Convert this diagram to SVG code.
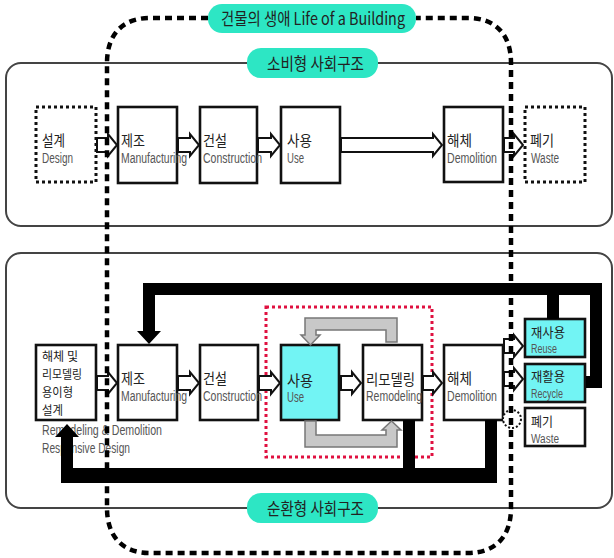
<svg xmlns="http://www.w3.org/2000/svg" width="614" height="558" viewBox="0 0 614 558">
<style>
.panel{fill:none;stroke:#444;stroke-width:2}
.box{fill:#fff;stroke:#111;stroke-width:2.6}
.cyan{fill:#72f4f4;stroke:#111;stroke-width:2.6}
.dot{fill:#fff;stroke:#111;stroke-width:3;stroke-dasharray:3 3}
.pill{fill:#2de6c4}
.ko{font-family:"Noto Sans CJK KR","Noto Sans",sans-serif;font-size:15px;fill:#222}
.ks{font-size:12.5px}
.kr{font-size:13px}
.en{font-family:"Liberation Sans Narrow","Liberation Sans",Arial,sans-serif;font-size:14px;fill:#555}
.sm{font-size:12px}
.pt{font-family:"Noto Sans CJK KR","Liberation Sans Narrow","Liberation Sans",sans-serif;font-size:17px;fill:#222}
.hollow{fill:#fff;stroke:#111;stroke-width:2}
.gray{fill:#c8c8c8;stroke:#777;stroke-width:1.5}
.black{fill:#000}
.life{fill:none;stroke:#000;stroke-width:4.5;stroke-dasharray:7 5}
.red{fill:none;stroke:#e01040;stroke-width:3;stroke-dasharray:3 3}
</style>

<g id="panels">
<rect class="panel" x="6" y="63" width="606" height="163" rx="15"/>
<rect class="panel" x="6" y="253" width="606" height="255" rx="15"/>
<rect class="red" x="266" y="307" width="166" height="150"/>
</g>

<!-- top row -->
<g id="n-design">
<rect class="dot" x="36" y="107" width="60" height="75"/>
<text class="ko" x="42" y="146" textLength="23" lengthAdjust="spacingAndGlyphs">설계</text>
<text class="en" x="42" y="163" textLength="31" lengthAdjust="spacingAndGlyphs">Design</text>
</g>
<g id="n-mfg">
<rect class="box" x="118" y="107" width="59" height="76"/>
<text class="ko" x="121" y="146" textLength="24" lengthAdjust="spacingAndGlyphs">제조</text>
<text class="en" x="121" y="163" textLength="66" lengthAdjust="spacingAndGlyphs">Manufacturing</text>
</g>
<g id="n-cons">
<rect class="box" x="200" y="107" width="57" height="76"/>
<text class="ko" x="203" y="146" textLength="24" lengthAdjust="spacingAndGlyphs">건설</text>
<text class="en" x="203" y="163" textLength="59" lengthAdjust="spacingAndGlyphs">Construction</text>
</g>
<g id="n-use">
<rect class="box" x="281" y="107" width="59" height="76"/>
<text class="ko" x="287" y="146" textLength="25" lengthAdjust="spacingAndGlyphs">사용</text>
<text class="en" x="287" y="163" textLength="17" lengthAdjust="spacingAndGlyphs">Use</text>
</g>
<g id="n-demo">
<rect class="box" x="444" y="107" width="59" height="75"/>
<text class="ko" x="447" y="146" textLength="25" lengthAdjust="spacingAndGlyphs">해체</text>
<text class="en" x="447" y="163" textLength="50" lengthAdjust="spacingAndGlyphs">Demolition</text>
</g>
<g id="n-waste">
<rect class="dot" x="525" y="107" width="60" height="75"/>
<text class="ko" x="530" y="146" textLength="24" lengthAdjust="spacingAndGlyphs">폐기</text>
<text class="en" x="531" y="163" textLength="28" lengthAdjust="spacingAndGlyphs">Waste</text>
</g>

<!-- bottom row -->
<g id="n-design2">
<rect class="box" x="36" y="345" width="60" height="75"/>
<text class="ko ks" x="42" y="361" textLength="36" lengthAdjust="spacingAndGlyphs">해체 및</text>
<text class="ko ks" x="42" y="379" textLength="40" lengthAdjust="spacingAndGlyphs">리모델링</text>
<text class="ko ks" x="42" y="397" textLength="31" lengthAdjust="spacingAndGlyphs">용이형</text>
<text class="ko ks" x="42" y="415" textLength="21" lengthAdjust="spacingAndGlyphs">설계</text>
<text class="en" x="42" y="435" textLength="120" lengthAdjust="spacingAndGlyphs">Remodeling &amp; Demolition</text>
<text class="en" x="42" y="453" textLength="88" lengthAdjust="spacingAndGlyphs">Responsive Design</text>
</g>
<g id="n-mfg2">
<rect class="box" x="118" y="345" width="59" height="75"/>
<text class="ko" x="121" y="384" textLength="24" lengthAdjust="spacingAndGlyphs">제조</text>
<text class="en" x="121" y="401" textLength="66" lengthAdjust="spacingAndGlyphs">Manufacturing</text>
</g>
<g id="n-cons2">
<rect class="box" x="200" y="345" width="58" height="75"/>
<text class="ko" x="203" y="384" textLength="24" lengthAdjust="spacingAndGlyphs">건설</text>
<text class="en" x="203" y="401" textLength="59" lengthAdjust="spacingAndGlyphs">Construction</text>
</g>
<g id="n-use2">
<rect class="cyan" x="281" y="345" width="58" height="75"/>
<text class="ko" x="287" y="386" textLength="26" lengthAdjust="spacingAndGlyphs">사용</text>
<text class="en" x="287" y="402" textLength="17" lengthAdjust="spacingAndGlyphs">Use</text>
</g>
<g id="n-remodel">
<rect class="box" x="363" y="345" width="59" height="75"/>
<text class="ko" x="366" y="385" textLength="49" lengthAdjust="spacingAndGlyphs">리모델링</text>
<text class="en" x="366" y="401" textLength="56" lengthAdjust="spacingAndGlyphs">Remodeling</text>
</g>
<g id="n-demo2">
<rect class="box" x="444" y="345" width="59" height="75"/>
<text class="ko" x="447" y="384" textLength="25" lengthAdjust="spacingAndGlyphs">해체</text>
<text class="en" x="447" y="401" textLength="50" lengthAdjust="spacingAndGlyphs">Demolition</text>
</g>
<g id="n-reuse">
<rect class="cyan" x="525" y="319" width="60" height="38"/>
<text class="ko kr" x="531" y="337" textLength="34" lengthAdjust="spacingAndGlyphs">재사용</text>
<text class="en sm" x="531" y="353" textLength="26" lengthAdjust="spacingAndGlyphs">Reuse</text>
</g>
<g id="n-recycle">
<rect class="cyan" x="525" y="364" width="60" height="38"/>
<text class="ko kr" x="531" y="381" textLength="34" lengthAdjust="spacingAndGlyphs">재활용</text>
<text class="en sm" x="531" y="398" textLength="32" lengthAdjust="spacingAndGlyphs">Recycle</text>
</g>
<g id="n-waste2">
<rect class="box" x="525" y="408" width="60" height="38"/>
<text class="ko kr" x="531" y="426" textLength="22" lengthAdjust="spacingAndGlyphs">폐기</text>
<text class="en sm" x="531" y="443" textLength="28" lengthAdjust="spacingAndGlyphs">Waste</text>
</g>

<g id="connectors">
<!-- top row hollow arrows -->
<path class="hollow" d="M97,138 H108 V134 L117,145 L108,156 V152 H97 Z"/>
<path class="hollow" d="M178,138 H190 V134 L199,145 L190,156 V152 H178 Z"/>
<path class="hollow" d="M258,138 H271 V134 L280,145 L271,156 V152 H258 Z"/>
<path class="hollow" d="M341,138 H433 V134 L442,145 L433,156 V152 H341 Z"/>
<path class="hollow" d="M504,138 H514 V134 L523,145 L514,156 V152 H504 Z"/>
<!-- bottom row hollow arrows -->
<path class="hollow" d="M97,376 H108 V372 L117,383 L108,394 V390 H97 Z"/>
<path class="hollow" d="M178,376 H190 V372 L199,383 L190,394 V390 H178 Z"/>
<path class="hollow" d="M259,376 H271 V372 L280,383 L271,394 V390 H259 Z"/>
<path class="hollow" d="M341,376 H352 V372 L361,383 L352,394 V390 H341 Z"/>
<path class="hollow" d="M423,376 H433 V372 L442,383 L433,394 V390 H423 Z"/>
<path class="hollow" d="M504,339 H514 V335 L523,346 L514,357 V353 H504 Z"/>
<path class="hollow" d="M504,372 H514 V368 L523,379 L514,390 V386 H504 Z"/>
<circle cx="512" cy="419" r="9" fill="#fff" stroke="#111" stroke-width="2" stroke-dasharray="2 2"/>
<!-- gray remodel loop -->
<path class="gray" d="M397,318 V342 H386 V330 H316 V335 H320 L310.5,345 L301,335 H305 V318 Z"/>
<path class="gray" d="M305,421 H316 V435 H386 V430 H382 L391.5,421 L401,430 H397 V447 H305 Z"/>
<!-- black feedback loops -->
<path class="black" d="M602,283 V388 H586 V376 H590 V295 H559 V319 H547 V295 H155 V331 H161 L149,344 L137,331 H143 V283 Z"/>
<path class="black" d="M485,420 H497 V483 H61 V437 H55 L67,424 L79,437 H73 V468 H403 V420 H415 V468 H485 Z"/>
</g>

<g id="life">
<path class="life" d="M208,18 H150 C122,18 107,35 107,63 V508 C107,536 122,553 150,553 H468 C496,553 511,536 511,508 V63 C511,35 496,18 468,18 H416"/>
</g>

<g id="labels">
<g id="l-life">
<rect class="pill" x="208" y="4" width="208" height="29" rx="14"/>
<text class="pt" x="221" y="25" textLength="184" lengthAdjust="spacingAndGlyphs">건물의 생애 Life of a Building</text>
</g>
<g id="l-consume">
<rect class="pill" x="247" y="48" width="131" height="30" rx="14"/>
<text class="pt" x="267" y="70" font-size="18" textLength="97" lengthAdjust="spacingAndGlyphs">소비형 사회구조</text>
</g>
<g id="l-circular">
<rect class="pill" x="247" y="493" width="131" height="30" rx="14"/>
<text class="pt" x="267" y="515" font-size="18" textLength="97" lengthAdjust="spacingAndGlyphs">순환형 사회구조</text>
</g>
</g>
</svg>
